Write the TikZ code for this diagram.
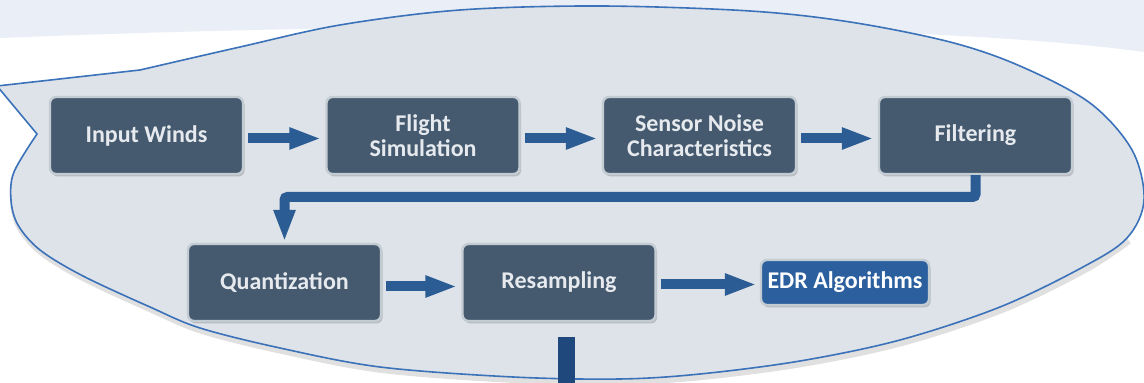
\documentclass[tikz,border=0pt]{standalone}
\usepackage{fontspec}
\setmainfont{Carlito}
\usetikzlibrary{arrows.meta,shadows}
\definecolor{boxfill}{HTML}{455A6F}
\definecolor{boxtext}{HTML}{E6EAEE}
\definecolor{rim}{HTML}{C3CBD3}
\definecolor{arrowblue}{HTML}{2B5C94}
\definecolor{edrfill}{HTML}{2B5F9E}
\definecolor{outblue}{HTML}{1F497D}
\definecolor{calloutfill}{HTML}{DEE3E9}
\definecolor{calloutline}{HTML}{3B72B9}
\definecolor{bandblue}{HTML}{EAEFF7}
\begin{document}
\begin{tikzpicture}[x=0.5pt,y=-0.5pt,
  stepbox/.style={draw=rim, line width=1.2pt, fill=boxfill, rounded corners=3pt,
    minimum width=96.5pt, minimum height=38.5pt, align=center, text=boxtext,
    inner sep=2pt, font=\bfseries\fontsize{12}{12.5}\selectfont,
    drop shadow={shadow xshift=0.8pt, shadow yshift=-1.2pt, opacity=0.35, fill=black!55}},
  edrbox/.style={stepbox, fill=edrfill, minimum width=84pt, minimum height=22.5pt, text=white},
  flow/.style={draw=arrowblue, line width=5pt, line join=miter,
    -{Triangle[length=16pt,width=10pt]}},
  outbar/.style={draw=outblue, line width=8.5pt},
  callout/.style={draw=calloutline, line width=0.8pt, fill=calloutfill, line join=miter}]
\useasboundingbox (0,0) rectangle (1144,383);
\fill[white] (0,0) rectangle (1144,383);
\fill[bandblue] (0,0) -- (1144,0) -- (1144,52) .. controls (950,25) and (500,18) .. (0,38) -- cycle;
% soft shadow under callout
\draw[black!12, line width=3pt] plot[smooth, tension=0.55] coordinates {(14,176) (13,203) (20,228) (42,253) (85,279) (152,310) (202,331) (282,351) (382,370) (515,380) (620,382) (702,377) (802,364) (902,343) (1002,310) (1085,270) (1129,241)};
% callout
\draw[callout] (140,70) -- (-3,86) -- plot[smooth, tension=0.55] coordinates {(37,134) (14,172) (11,200) (18,225) (40,250) (83,276) (150,307) (200,328) (280,348) (380,367) (513,377) (620,379) (700,374) (800,361) (900,340) (1000,307) (1083,267) (1127,238) (1144,200) (1132,150) (1090,103) (1020,66) (950,42) (850,22) (750,11) (600,6) (460,10) (340,25) (240,47) (140,70)} -- cycle;
% boxes
\node[stepbox] (in) at (146.5,135.5) {Input Winds};
\node[stepbox] (fs) at (423,135.5) {Flight\\Simulation};
\node[stepbox] (sn) at (699.5,135.5) {Sensor Noise\\Characteristics};
\node[stepbox] (fi) at (975.5,135.5) {Filtering};
\node[stepbox] (qu) at (284.5,282.5) {Quantization};
\node[stepbox] (rs) at (559,282.5) {Resampling};
\node[edrbox] (edr) at (845,282.5) {EDR Algorithms};
\coordinate (turn) at (0,197);
\coordinate (outtop) at (566,337);
\coordinate (outbot) at (566,392);
% connectors
\draw[flow, shorten <=2pt, shorten >=2pt] ([yshift=-1.5pt]in.east) -- ([yshift=-1.5pt]fs.west);
\draw[flow, shorten <=2pt, shorten >=2pt] ([yshift=-1.5pt]fs.east) -- ([yshift=-1.5pt]sn.west);
\draw[flow, shorten <=2pt, shorten >=2pt] ([yshift=-1.5pt]sn.east) -- ([yshift=-1.5pt]fi.west);
\draw[flow, rounded corners=1.5pt, shorten >=0.5pt] (fi.south) -- (fi.south |- turn) -| (qu.north);
\draw[flow, shorten <=2pt, shorten >=2pt] ([yshift=-2pt]qu.east) -- ([yshift=-2pt]rs.west);
\draw[flow, shorten <=2pt, shorten >=1.5pt] ([yshift=-1pt]rs.east) -- (edr.west |- 0,284.5);
\draw[outbar] (outtop) -- (outbot);
\end{tikzpicture}
\end{document}
